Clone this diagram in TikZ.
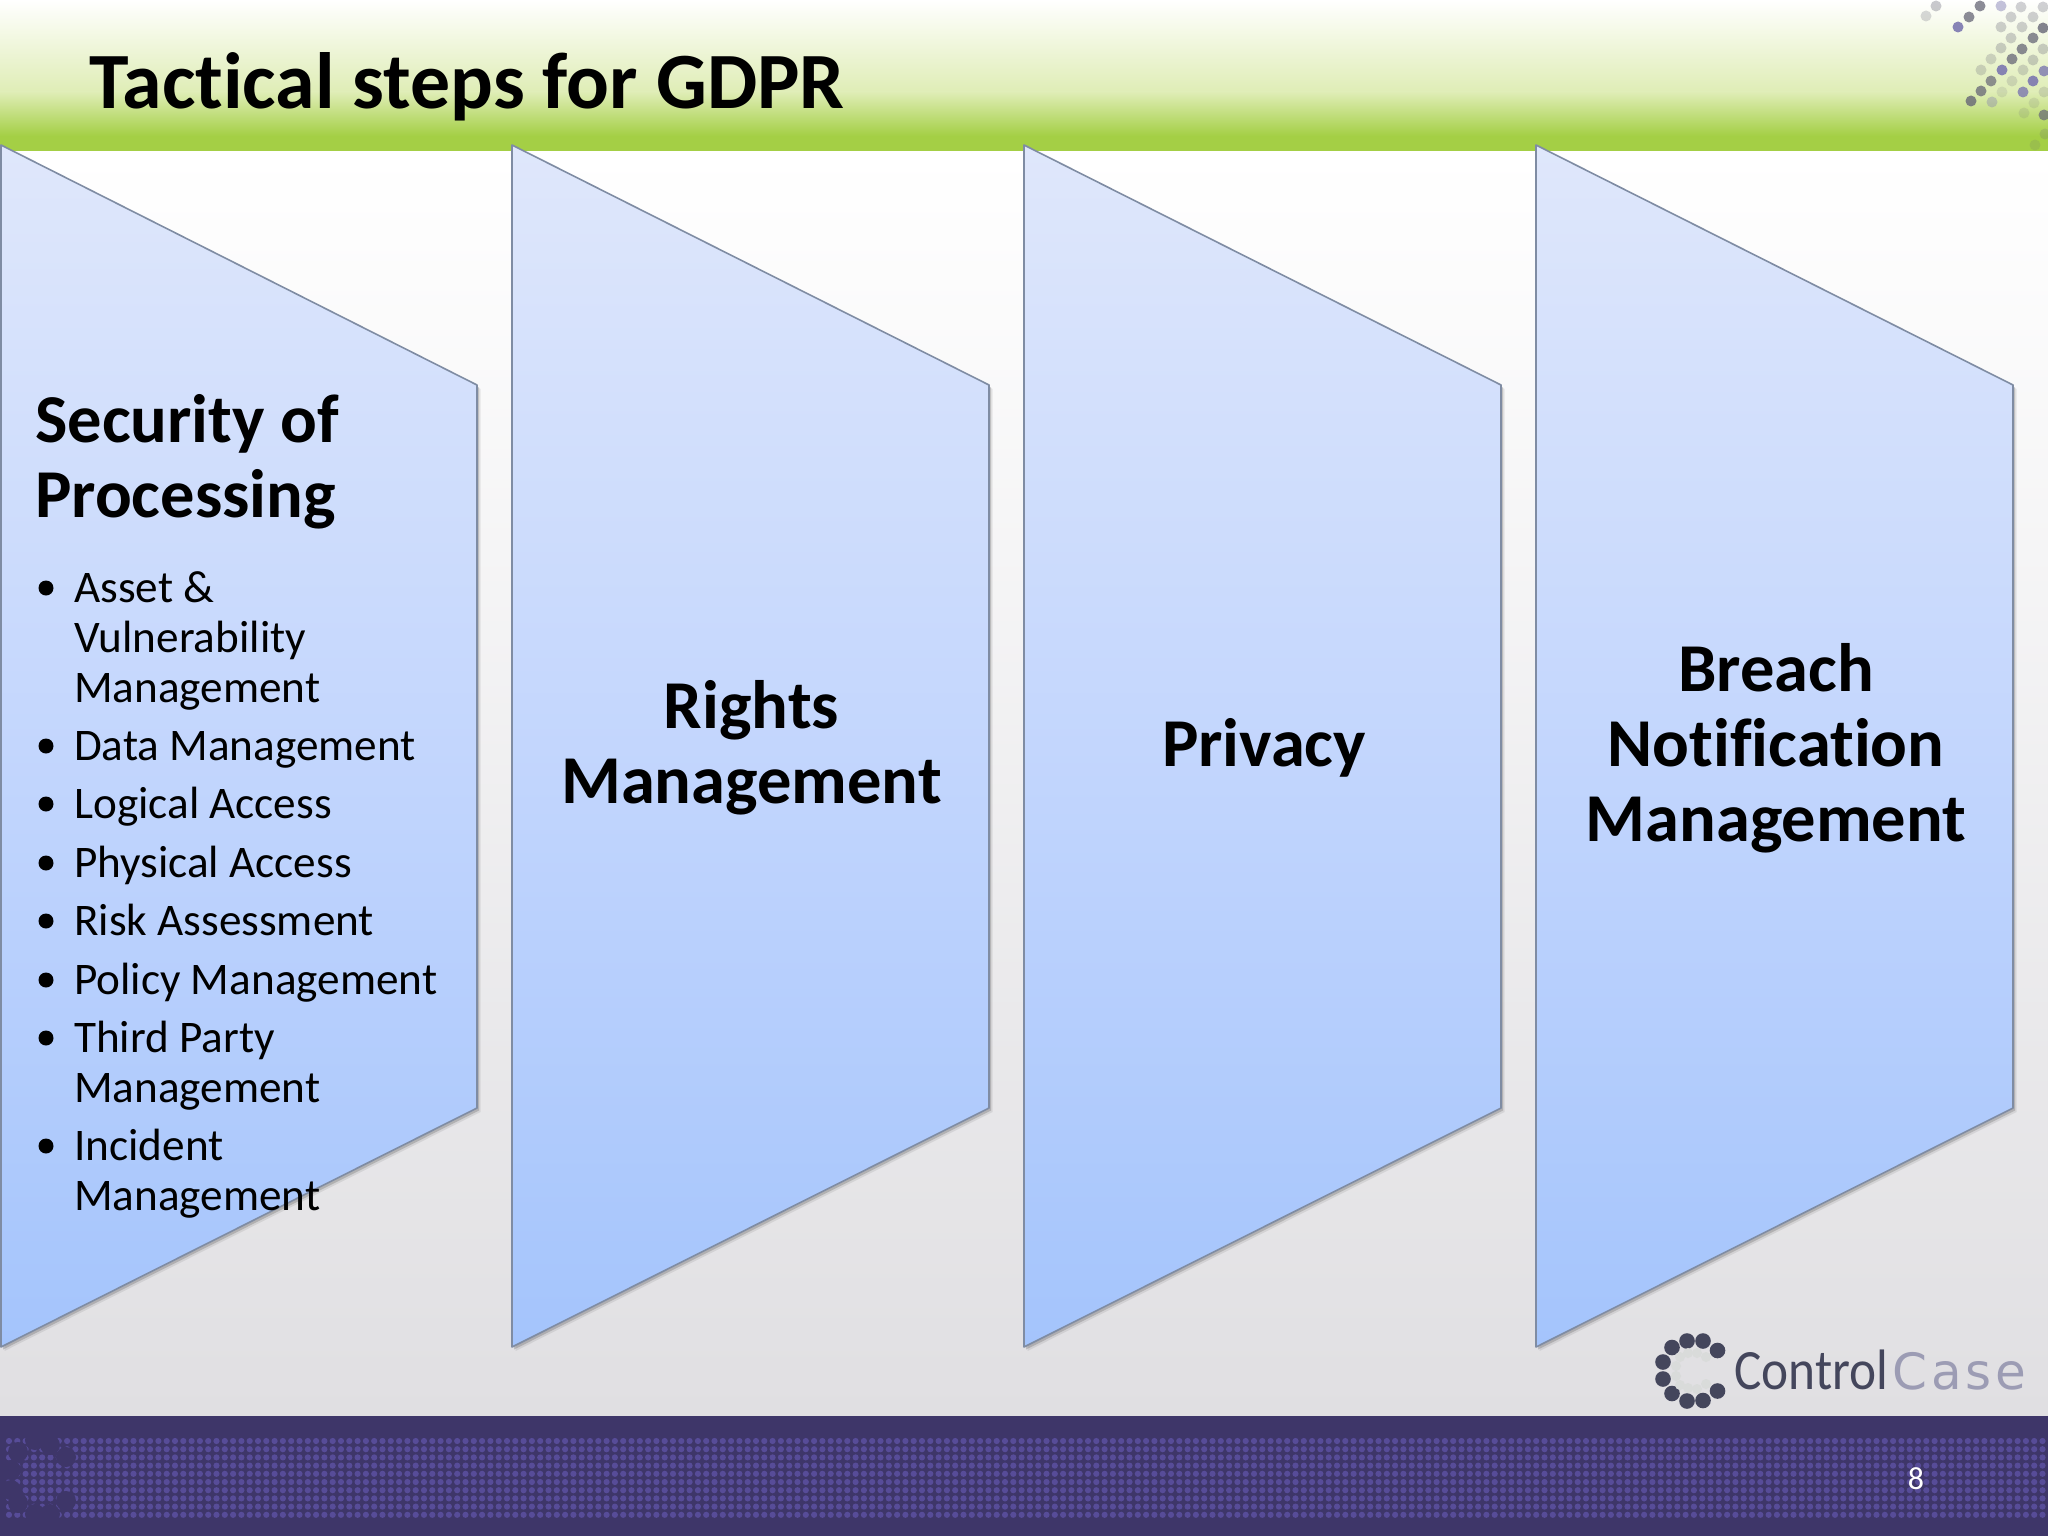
\documentclass[tikz,border=0pt]{standalone}
\usepackage{fontspec}
\setmainfont{Carlito}[RawFeature={-liga}]
\newfontfamily\ctlfont[FakeStretch=0.9]{Carlito}
\newfontfamily\casfont[LetterSpace=8]{DejaVu Sans}
\usetikzlibrary{shadows}
\definecolor{panelTop}{HTML}{DFE7FB}
\definecolor{panelMid}{HTML}{C3D6FD}
\definecolor{panelBot}{HTML}{A4C4FC}
\definecolor{panelEdge}{HTML}{7F8CA3}
\definecolor{bandDark}{HTML}{3E3669}
\definecolor{bandDot}{HTML}{574C98}
\definecolor{logoDark}{HTML}{44465C}
\definecolor{logoLight}{HTML}{9C9CB4}
\definecolor{logoPale}{HTML}{D9DBDA}
\definecolor{barGreen}{HTML}{A4CF45}
\definecolor{barPale}{HTML}{DFEDB6}
\definecolor{dotGrey}{HTML}{666676}
\definecolor{dotPurple}{HTML}{7C78B0}
\tikzset{
  x=1pt,y=-1pt,
  panel/.style={draw=panelEdge,line width=1.6pt,line join=round,top color=panelTop,bottom color=panelBot,middle color=panelMid,
    general shadow={shadow xshift=3.5pt,shadow yshift=-4pt,fill=black,opacity=.08},
    general shadow={shadow xshift=2pt,shadow yshift=-2.5pt,fill=black,opacity=.16}},
  headtext/.style={font=\bfseries\fontsize{68.5}{75}\selectfont,align=center,inner sep=0pt,text=black},
  listtext/.style={font=\fontsize{45.2}{50}\selectfont,anchor=base west,inner sep=0pt,text=black},
  bul/.style={circle,fill=black,inner sep=0pt,minimum size=15pt},
}
\newcommand{\litem}[3]{\node[bul] (#1b) at (46,#2-14) {}; \node[listtext] (#1) at (74,#2) {#3};}
\newcommand{\lcont}[3]{\node[listtext] (#1) at (74,#2) {#3};}
\begin{document}
\begin{tikzpicture}
\useasboundingbox (0,0) rectangle (2048,1536);
% backgrounds
\shade[top color=white,bottom color=barPale] (0,0) rectangle (2048,92);
\shade[top color=barPale,bottom color=barGreen] (0,92) rectangle (2048,136);
\fill[barGreen] (0,136) rectangle (2048,152);
\shade[top color=white,middle color=white,bottom color={rgb,255:red,224;green,223;blue,226}] (0,152) rectangle (2048,1416);
% top right dots
\foreach \px/\py/\cl/\op in {1926/16/dotGrey/.25,1936/6/dotGrey/.35,1969/17/dotGrey/.75,1980/6/dotGrey/.75,1958/27/dotPurple/.9,
  2001/6/dotPurple/.45,2021/7/dotGrey/.3,2043/7/dotGrey/.3,2011/17/dotGrey/.3,2033/17/dotGrey/.3,2001/27/dotGrey/.3,2022/27/dotGrey/.3,
  2043/28/dotGrey/.8,2011/38/dotGrey/.3,2033/38/dotGrey/.75,2001/48/dotGrey/.3,2022/49/dotGrey/.75,2043/49/dotGrey/.3,
  1991/59/dotGrey/.25,2012/59/dotGrey/.75,2033/60/dotGrey/.3,1981/70/dotGrey/.25,2002/70/dotPurple/.9,2023/70/dotGrey/.25,2044/71/dotPurple/.8,
  1991/81/dotGrey/.7,2012/81/dotGrey/.2,2033/81/dotPurple/.9,1981/91/dotGrey/.75,2002/92/dotGrey/.15,2023/92/dotPurple/.8,2044/92/dotGrey/.2,
  1971/101/dotGrey/.8,1992/102/dotPurple/.35,2034/103/dotGrey/.15,2024/113/dotGrey/.15,2044/115/dotGrey/.7,2045/134/dotGrey/.2,2035/145/dotGrey/.15}
  \fill[\cl,opacity=\op] (\px,\py) circle (5.5);
% panels
\path[panel] (1,145) -- (477,385) -- (477,1108) -- (1,1347) -- cycle;
\path[panel] (512,145) -- (989,385) -- (989,1108) -- (512,1347) -- cycle;
\path[panel] (1024,145) -- (1501,385) -- (1501,1108) -- (1024,1347) -- cycle;
\path[panel] (1536,145) -- (2013,385) -- (2013,1108) -- (1536,1347) -- cycle;
% title
\node[font=\bfseries\fontsize{79.8}{88}\selectfont,anchor=base west,inner sep=0pt] (title) at (89,109) {Tactical steps for GDPR};
% panel one
\node[headtext,anchor=base west] (h1a) at (35,442) {Security of};
\node[headtext,anchor=base west] (h1b) at (35,517) {Processing};
\litem{a1}{602}{Asset \&}
\lcont{a2}{652}{Vulnerability}
\lcont{a3}{702}{Management}
\litem{a4}{760}{Data Management}
\litem{a5}{818}{Logical Access}
\litem{a6}{877}{Physical Access}
\litem{a7}{935}{Risk Assessment}
\litem{a8}{994}{Policy Management}
\litem{a9}{1052}{Third Party}
\lcont{a10}{1102}{Management}
\litem{a11}{1160}{Incident}
\lcont{a12}{1210}{Management}
% other panels
\node[headtext] (h2) at (751.5,748) {Rights\\Management};
\node[headtext] (h3) at (1264,748) {Privacy};
\node[headtext] (h4) at (1776,748) {Breach\\Notification\\Management};
% footer
\fill[bandDark] (0,1416) rectangle (2048,1536);
\foreach \r in {0,...,9}{
  \foreach \c in {0,...,245}{
    \fill[bandDot] ({8.3*\c+9},{1441+8.2*\r}) circle (3.1);
  }
}
\foreach \px/\py in {18/1452,35/1440,50/1445,66/1457,11/1470,11/1490,18/1503,35/1514,50/1514,66/1501}
  \fill[bandDark] (\px,\py) circle (10);
\node[font=\fontsize{32}{36}\selectfont,text=white,inner sep=0pt] (pg) at (1916,1479) {8};
% logo
\foreach \px/\py in {1717.5/1350.5,1703/1341,1687/1341,1672/1347.5,1663/1362,1663/1379,1672/1393.5,1687/1401,1703/1400.5,1717.5/1391}
  \fill[logoDark] (\px,\py) circle (7.8);
\foreach \px/\py in {1706/1357,1697/1353,1688/1353,1680/1357,1676/1366,1676/1376,1680/1385,1688/1388,1697/1389,1706/1384}
  \fill[logoPale] (\px,\py) circle (5);
\node[font=\ctlfont\fontsize{57}{60}\selectfont,text=logoDark,anchor=base west,inner sep=0pt] (ctl) at (1734,1389) {Control};
\node[font=\casfont\fontsize{50}{52}\selectfont,text=logoLight,anchor=base west,inner sep=0pt] (cas) at (1892,1389) {Case};
\end{tikzpicture}
\end{document}
